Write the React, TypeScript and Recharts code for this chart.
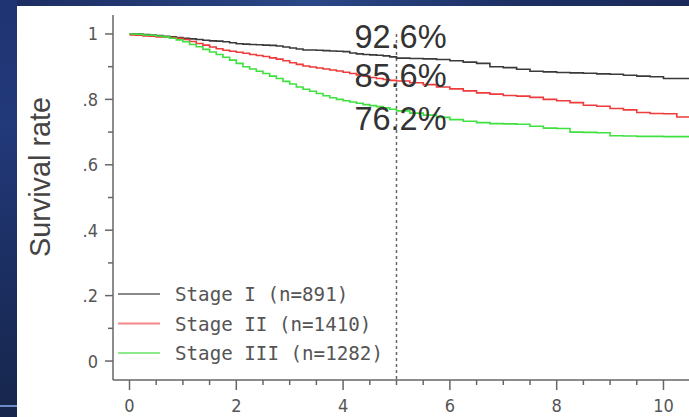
import React from 'react';
import { LineChart, Line, XAxis, YAxis, ReferenceLine, ReferenceDot, Legend } from 'recharts';

// ---- data ----
const times = [
  0, 0.125, 0.25, 0.375, 0.5, 0.625, 0.75, 0.875, 1, 1.125, 1.25, 1.375, 1.5, 1.625, 1.75, 1.875,
  2, 2.125, 2.25, 2.375, 2.5, 2.625, 2.75, 2.875, 3, 3.125, 3.25, 3.375, 3.5, 3.625, 3.75, 3.875,
  4, 4.125, 4.25, 4.375, 4.5, 4.625, 4.75, 4.875, 5,
  5.25, 5.5, 5.75, 6, 6.25, 6.5, 6.75, 7, 7.25, 7.5, 7.75, 8, 8.25, 8.5, 8.75, 9, 9.25, 9.5, 9.75, 10, 10.25, 10.5,
];
const stageI = [
  1.0, 1.0, 0.998, 0.997, 0.995, 0.993, 0.991, 0.989, 0.987, 0.985, 0.983, 0.981, 0.979, 0.978, 0.976, 0.973,
  0.97, 0.969, 0.968, 0.967, 0.966, 0.965, 0.963, 0.96, 0.957, 0.954, 0.951, 0.951, 0.95, 0.949, 0.948, 0.947,
  0.946, 0.942, 0.939, 0.937, 0.936, 0.935, 0.933, 0.93, 0.926,
  0.925, 0.924, 0.922, 0.918, 0.914, 0.91, 0.9, 0.897, 0.892, 0.886, 0.884, 0.882, 0.881, 0.88, 0.878, 0.877,
  0.874, 0.871, 0.869, 0.864, 0.864, 0.864,
];
const stageII = [
  0.997, 0.996, 0.994, 0.993, 0.991, 0.99, 0.989, 0.987, 0.983, 0.977, 0.971, 0.966, 0.96, 0.955, 0.95, 0.947,
  0.944, 0.941, 0.937, 0.934, 0.931, 0.927, 0.923, 0.918, 0.912, 0.907, 0.902, 0.899, 0.896, 0.893, 0.89, 0.887,
  0.883, 0.879, 0.875, 0.871, 0.867, 0.864, 0.861, 0.858, 0.856,
  0.851, 0.845, 0.838, 0.832, 0.826, 0.82, 0.816, 0.812, 0.81, 0.806, 0.8, 0.796, 0.79, 0.782, 0.779, 0.772,
  0.768, 0.76, 0.757, 0.756, 0.746, 0.745,
];
const stageIII = [
  1.0, 0.999, 0.997, 0.996, 0.994, 0.991, 0.987, 0.982, 0.976, 0.968, 0.961, 0.953, 0.945, 0.937, 0.929, 0.92,
  0.91, 0.9, 0.893, 0.886, 0.879, 0.871, 0.864, 0.855, 0.847, 0.838, 0.831, 0.825, 0.818, 0.811, 0.805, 0.8,
  0.796, 0.792, 0.788, 0.784, 0.781, 0.778, 0.774, 0.77, 0.765,
  0.758, 0.752, 0.745, 0.738, 0.733, 0.729, 0.726, 0.725, 0.724, 0.718, 0.712, 0.711, 0.7, 0.699, 0.698, 0.689,
  0.688, 0.687, 0.687, 0.686, 0.686, 0.686,
];
const seriesNames = ['Stage I (n=891)', 'Stage II (n=1410)', 'Stage III (n=1282)'];
const xTicks = [0, 0.5, 1, 1.5, 2, 2.5, 3, 3.5, 4, 4.5, 5, 5.5, 6, 6.5, 7, 7.5, 8, 8.5, 9, 9.5, 10];
const xTickLabels: Record<string, string> = { '0': '0', '2': '2', '4': '4', '6': '6', '8': '8', '10': '10' };
const yTicks = [0, 0.1, 0.2, 0.3, 0.4, 0.5, 0.6, 0.7, 0.8, 0.9, 1];
const yTickLabels: Record<string, string> = { '0': '0', '0.2': '.2', '0.4': '.4', '0.6': '.6', '0.8': '.8', '1': '1' };
const landmarkYear = 5;
const landmarkLabels = ['92.6%', '85.6%', '76.2%'];

// ---- layout / style ----
const W = 689;
const H = 417;
const labelAnchorsY = [0.957, 0.838, 0.706];
const colors = ['#3a3a3a', '#ee3b3b', '#3fe03f'];
const axisColor = '#666';
const tickFont = "'Liberation Sans Narrow', 'DejaVu Sans Condensed', 'Liberation Sans', Arial, sans-serif";

const rows = times.map((t, i) => ({ t, s1: stageI[i], s2: stageII[i], s3: stageIII[i] }));

const XTick = (props: any) => {
  const { x, y, payload } = props;
  const v = payload.value;
  const label = xTickLabels[String(v)];
  const major = label !== undefined;
  return (
    <g>
      <line x1={x} x2={x} y1={y} y2={y + (major ? 10 : 5)} stroke={axisColor} strokeWidth={1.5} />
      {major && (
        <text x={x} y={y + 32} textAnchor="middle" fontFamily={tickFont} fontSize={18} fill="#555">
          {label}
        </text>
      )}
    </g>
  );
};

const YTick = (props: any) => {
  const { x, y, payload } = props;
  const v = Math.round(payload.value * 10) / 10;
  const label = yTickLabels[String(v)];
  const major = label !== undefined;
  return (
    <g>
      <line x1={x} x2={x - (major ? 8 : 5)} y1={y} y2={y} stroke={axisColor} strokeWidth={1.5} />
      {major && (
        <text x={x - 15} y={y + 6.5} textAnchor="end" fontFamily={tickFont} fontSize={18} fill="#555">
          {label}
        </text>
      )}
    </g>
  );
};

const renderLegend = (props: any) => {
  const payload = props.payload || [];
  return (
    <svg width={290} height={90} style={{ display: 'block' }}>
      {payload.map((p: any, i: number) => {
        const cy = 13 + i * 29.5;
        return (
          <g key={p.value}>
            <line x1={0} x2={42} y1={cy} y2={cy} stroke={p.color} strokeOpacity={0.6} strokeWidth={2.2} />
            <text
              x={57}
              y={cy + 7}
              fontFamily="'DejaVu Sans Mono', 'Liberation Mono', monospace"
              fontSize={19.2}
              fill="#555"
            >
              {p.value}
            </text>
          </g>
        );
      })}
    </svg>
  );
};

const YLabel = () => {
  const cx = 50;
  const cy = 177;
  return (
    <text
      x={cx}
      y={cy}
      transform={`rotate(-90 ${cx} ${cy})`}
      textAnchor="middle"
      fontFamily="'Liberation Sans', Arial, sans-serif"
      fontSize={30}
      textLength={160}
      lengthAdjust="spacingAndGlyphs"
      fill="#444"
    >
      Survival rate
    </text>
  );
};

export default function App() {
  return (
    <div
      style={{
        position: 'absolute',
        left: 0,
        top: 0,
        width: W,
        height: H,
        overflow: 'hidden',
        background: 'linear-gradient(90deg, #1c2c60 0%, #2a4787 45%, #1d2f63 75%, #1a2a5a 100%)',
      }}
    >
      <div
        style={{
          position: 'absolute',
          left: 0,
          top: 0,
          width: 17,
          height: H,
          background: 'linear-gradient(180deg, #1f3472 0%, #22397a 30%, #1b2d5e 70%, #16264c 100%)',
        }}
      />
      <div style={{ position: 'absolute', left: 0, top: 405, width: 17, height: 2, background: '#6d8cc8' }} />
      <div style={{ position: 'absolute', left: 17, top: 6, width: W - 17, height: H - 6, background: '#ffffff' }} />
      <div style={{ position: 'absolute', left: 0, top: 0 }}>
        <LineChart width={W} height={H} data={rows} margin={{ top: 15, right: 0, left: 0, bottom: 0 }}>
          <XAxis
            dataKey="t"
            type="number"
            domain={[-0.309, 10.478]}
            allowDataOverflow
            ticks={xTicks}
            interval={0}
            tickLine={false}
            tickSize={0}
            tickMargin={0}
            tick={<XTick />}
            axisLine={{ stroke: axisColor, strokeWidth: 1.5 }}
            height={37}
          />
          <YAxis
            type="number"
            domain={[-0.058, 1.058]}
            allowDataOverflow
            ticks={yTicks}
            interval={0}
            tickLine={false}
            tickSize={0}
            tickMargin={0}
            tick={<YTick />}
            axisLine={{ stroke: axisColor, strokeWidth: 1.5 }}
            width={113}
            label={<YLabel />}
          />
          <ReferenceLine
            segment={[
              { x: landmarkYear, y: 1.0 },
              { x: landmarkYear, y: -0.058 },
            ]}
            stroke={axisColor}
            strokeWidth={1.5}
            strokeDasharray="3 3"
          />
          <Line type="stepAfter" dataKey="s1" name={seriesNames[0]} stroke={colors[0]} strokeWidth={1.6} dot={false} isAnimationActive={false} />
          <Line type="stepAfter" dataKey="s2" name={seriesNames[1]} stroke={colors[1]} strokeWidth={1.6} dot={false} isAnimationActive={false} />
          <Line type="stepAfter" dataKey="s3" name={seriesNames[2]} stroke={colors[2]} strokeWidth={1.6} dot={false} isAnimationActive={false} />
          {landmarkLabels.map((lab, i) => (
            <ReferenceDot
              key={lab}
              x={landmarkYear}
              y={labelAnchorsY[i]}
              r={0}
              ifOverflow="visible"
              shape={(p: any) => (
                <text
                  x={p.cx + 4}
                  y={p.cy}
                  textAnchor="middle"
                  fontFamily="'Liberation Sans', Arial, sans-serif"
                  fontSize={32.5}
                  fill="#333"
                >
                  {lab}
                </text>
              )}
            />
          ))}
          <Legend
            layout="horizontal"
            verticalAlign="middle"
            align="center"
            content={renderLegend}
            wrapperStyle={{ position: 'absolute', left: 118, top: 281, width: 290, height: 90 }}
          />
        </LineChart>
      </div>
    </div>
  );
}
